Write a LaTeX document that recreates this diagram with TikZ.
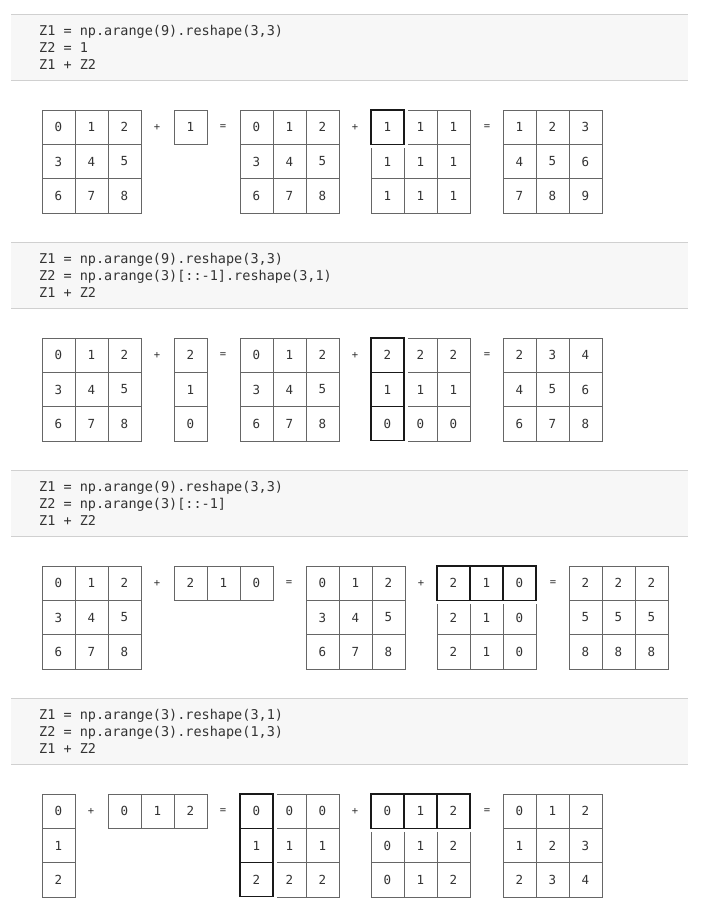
\documentclass[tikz,border=0pt]{standalone}
\usepackage{fontspec}
\setmonofont{DejaVu Sans Mono}

\definecolor{gridgray}{HTML}{666666}
\definecolor{textgray}{HTML}{333333}
\definecolor{codebg}{HTML}{F7F7F7}
\definecolor{codeline}{HTML}{D0D0D0}

\tikzset{
  cell/.style={draw=gridgray, line width=0.8pt, minimum width=33pt, minimum height=34.3pt,
    inner sep=0pt, outer sep=0pt, text=textgray, font=\ttfamily\fontsize{12.5}{12.5}\selectfont},
  op/.style={text=textgray, font=\ttfamily\fontsize{10.5}{10.5}\selectfont},
  code/.style={anchor=base west, inner sep=0pt, text=textgray, font=\ttfamily\fontsize{13.5}{17}\selectfont},
  halo/.style={draw=white, line width=7pt},
  orig/.style={draw=black!90, line width=1.15pt},
}

% matrix of cells: name, left x, top y, rows
\newcommand\cellmat[4]{%
  \foreach \row [count=\i] in {#4} {
    \foreach \v [count=\j] in \row {
      \node[cell] (#1-\i-\j) at ({#2+(\j-0.5)*33}, {#3+(\i-0.5)*34.3}) {\v};
    }
  }
}
% original (not broadcast) cells
\newcommand\origcells[1]{%
  \foreach \c in {#1} {\draw[halo] (\c.north west) rectangle (\c.south east);}
  \foreach \c in {#1} {\draw[orig] (\c.north west) rectangle (\c.south east);}
}
% code block: name, three lines
\newcommand\codeband[4]{%
  \fill[codebg] (11,14) rectangle (688,80);
  \draw[codeline] (11,14) -- (688,14) (11,80) -- (688,80);
  \node[code] (#1-l1) at (39,35) {#2};
  \node[code] (#1-l2) at (39,52.3) {#3};
  \node[code] (#1-l3) at (39,69.6) {#4};
}

\begin{document}
\begin{tikzpicture}[x=1pt, y=-1pt]
\useasboundingbox[fill=white] (0,0) rectangle (703,918);

% Z2 = 1
\begin{scope}
\codeband{c1}{Z1 = np.arange(9).reshape(3,3)}{Z2 = 1}{Z1 + Z2}
\cellmat{a1}{42}{110}{{0,1,2},{3,4,5},{6,7,8}}
\node[op] (p1) at (157,127) {+};
\cellmat{b1}{174}{110}{{1}}
\node[op] (q1) at (223,127) {=};
\cellmat{s1}{240}{110}{{0,1,2},{3,4,5},{6,7,8}}
\node[op] (r1) at (355,127) {+};
\cellmat{t1}{371}{110}{{1,1,1},{1,1,1},{1,1,1}}
\origcells{t1-1-1}
\node[op] (e1) at (487,127) {=};
\cellmat{z1}{503}{110}{{1,2,3},{4,5,6},{7,8,9}}
\end{scope}

% Z2 column
\begin{scope}[yshift=-228pt]
\codeband{c2}{Z1 = np.arange(9).reshape(3,3)}{Z2 = np.arange(3)[::-1].reshape(3,1)}{Z1 + Z2}
\cellmat{a2}{42}{110}{{0,1,2},{3,4,5},{6,7,8}}
\node[op] (p2) at (157,127) {+};
\cellmat{b2}{174}{110}{{2},{1},{0}}
\node[op] (q2) at (223,127) {=};
\cellmat{s2}{240}{110}{{0,1,2},{3,4,5},{6,7,8}}
\node[op] (r2) at (355,127) {+};
\cellmat{t2}{371}{110}{{2,2,2},{1,1,1},{0,0,0}}
\origcells{t2-1-1,t2-2-1,t2-3-1}
\node[op] (e2) at (487,127) {=};
\cellmat{z2}{503}{110}{{2,3,4},{4,5,6},{6,7,8}}
\end{scope}

% Z2 row
\begin{scope}[yshift=-456pt]
\codeband{c3}{Z1 = np.arange(9).reshape(3,3)}{Z2 = np.arange(3)[::-1]}{Z1 + Z2}
\cellmat{a3}{42}{110}{{0,1,2},{3,4,5},{6,7,8}}
\node[op] (p3) at (157,127) {+};
\cellmat{b3}{174}{110}{{2,1,0}}
\node[op] (q3) at (289,127) {=};
\cellmat{s3}{306}{110}{{0,1,2},{3,4,5},{6,7,8}}
\node[op] (r3) at (421,127) {+};
\cellmat{t3}{437}{110}{{2,1,0},{2,1,0},{2,1,0}}
\origcells{t3-1-1,t3-1-2,t3-1-3}
\node[op] (e3) at (553,127) {=};
\cellmat{z3}{569}{110}{{2,2,2},{5,5,5},{8,8,8}}
\end{scope}

% column + row
\begin{scope}[yshift=-684pt]
\codeband{c4}{Z1 = np.arange(3).reshape(3,1)}{Z2 = np.arange(3).reshape(1,3)}{Z1 + Z2}
\cellmat{a4}{42}{110}{{0},{1},{2}}
\node[op] (p4) at (91,127) {+};
\cellmat{b4}{108}{110}{{0,1,2}}
\node[op] (q4) at (223,127) {=};
\cellmat{s4}{240}{110}{{0,0,0},{1,1,1},{2,2,2}}
\origcells{s4-1-1,s4-2-1,s4-3-1}
\node[op] (r4) at (355,127) {+};
\cellmat{t4}{371}{110}{{0,1,2},{0,1,2},{0,1,2}}
\origcells{t4-1-1,t4-1-2,t4-1-3}
\node[op] (e4) at (487,127) {=};
\cellmat{z4}{503}{110}{{0,1,2},{1,2,3},{2,3,4}}
\end{scope}

\end{tikzpicture}
\end{document}
